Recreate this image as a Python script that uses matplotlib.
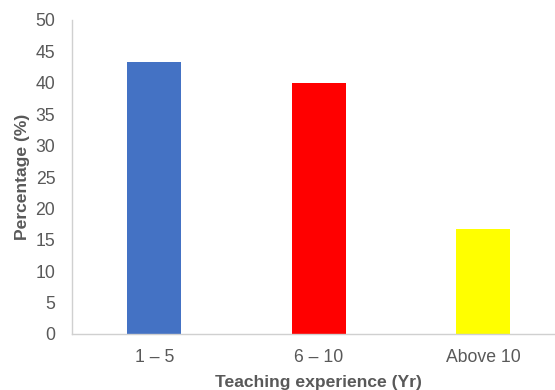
import matplotlib
matplotlib.use("Agg")
import matplotlib.pyplot as plt

# datos
categorias = ["1 \u2013 5", "6 \u2013 10", "Above 10"]
porcentajes = [43.3, 40.0, 16.7]
colores = ["#4472c4", "#ff0000", "#ffff00"]
yticks = list(range(0, 51, 5))

plt.rcParams["font.family"] = ["Liberation Sans", "DejaVu Sans"]
gris = "#595959"

fig = plt.figure(figsize=(5.55, 3.9), dpi=100)
ax = fig.add_axes([72 / 555, 56 / 390, 493.5 / 555, 314 / 390])

x = list(range(len(categorias)))
ax.bar(x, porcentajes, width=0.33, color=colores, zorder=2)

ax.set_xlim(-0.5, 2.5)
ax.set_ylim(0, 50)
ax.set_yticks(yticks)
ax.set_xticks(x)
ax.set_xticklabels(categorias)
ax.tick_params(axis="both", length=0, labelsize=12.7, colors=gris)
ax.tick_params(axis="x", pad=11)
ax.tick_params(axis="y", pad=12)

for s in ["top", "right"]:
    ax.spines[s].set_visible(False)
for s in ["left", "bottom"]:
    ax.spines[s].set_color("#d0d0d0")
    ax.spines[s].set_linewidth(1.0)

ax.set_xlabel("Teaching experience (Yr)", fontsize=12.6, fontweight="bold", color=gris, labelpad=6)
ax.set_ylabel("Percentage (%)", fontsize=12.6, fontweight="bold", color=gris, labelpad=4)

fig.savefig("out.png", dpi=100)
